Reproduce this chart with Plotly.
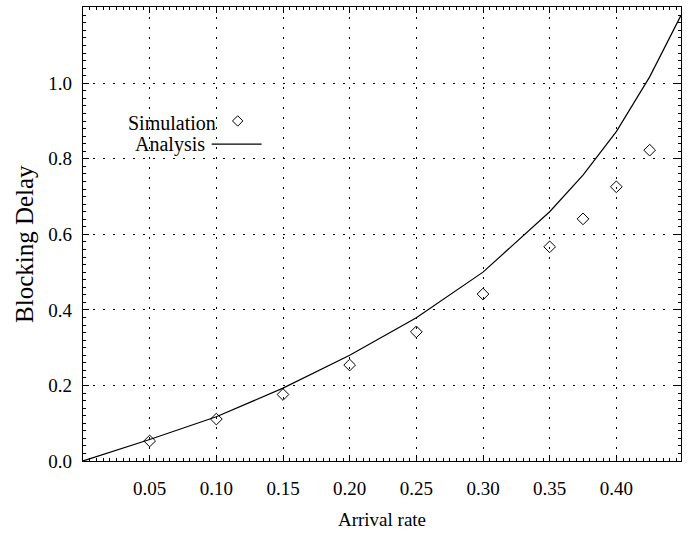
import plotly.graph_objects as go

# Data
analysis_x = [0.0, 0.05, 0.10, 0.15, 0.20, 0.25, 0.30, 0.35, 0.375, 0.40, 0.425, 0.4485]
analysis_y = [0.0, 0.057, 0.117, 0.193, 0.280, 0.379, 0.500, 0.660, 0.757, 0.872, 1.017, 1.180]

sim_x = [0.05, 0.10, 0.15, 0.20, 0.25, 0.30, 0.35, 0.375, 0.40, 0.425]
sim_y = [0.053, 0.111, 0.176, 0.254, 0.342, 0.442, 0.567, 0.641, 0.726, 0.823]

x_ticks = [0.05, 0.10, 0.15, 0.20, 0.25, 0.30, 0.35, 0.40]
x_ticklabels = ["0.05", "0.10", "0.15", "0.20", "0.25", "0.30", "0.35", "0.40"]
y_ticks = [0.0, 0.2, 0.4, 0.6, 0.8, 1.0]
y_ticklabels = ["0.0", "0.2", "0.4", "0.6", "0.8", "1.0"]

FONT = "Liberation Serif"

fig = go.Figure()
fig.add_trace(go.Scatter(x=analysis_x, y=analysis_y, mode="lines",
                         line=dict(color="black", width=1.2), showlegend=False))
fig.add_trace(go.Scatter(x=sim_x, y=sim_y, mode="markers",
                         marker=dict(symbol="diamond-open", size=9, color="black",
                                     line=dict(width=1, color="black")),
                         showlegend=False))

# manual legend (symbol to the right of the text) on hidden overlay axes
fig.add_trace(go.Scatter(x=[0.2587], y=[0.749], xaxis="x2", yaxis="y2", mode="markers",
                         marker=dict(symbol="diamond-open", size=8, color="black",
                                     line=dict(width=1, color="black")),
                         showlegend=False, hoverinfo="skip"))
fig.add_trace(go.Scatter(x=[0.2152, 0.2987], y=[0.698, 0.698], xaxis="x2", yaxis="y2",
                         mode="lines", line=dict(color="black", width=1.2),
                         showlegend=False, hoverinfo="skip"))
fig.add_annotation(x=0.2252, y=0.745, xref="paper", yref="paper", text="Simulation",
                   showarrow=False, xanchor="right", yanchor="middle",
                   font=dict(family=FONT, size=20, color="black"))
fig.add_annotation(x=0.2072, y=0.698, xref="paper", yref="paper", text="Analysis",
                   showarrow=False, xanchor="right", yanchor="middle",
                   font=dict(family=FONT, size=20, color="black"))

# y-axis title placed as rotated annotation
fig.add_annotation(x=-0.097, y=0.478, xref="paper", yref="paper", text="Blocking Delay",
                   textangle=-90, showarrow=False, xanchor="center", yanchor="middle",
                   font=dict(family=FONT, size=25, color="black"))

axis_common = dict(showline=True, linecolor="black", linewidth=1.2, mirror="ticks",
                   ticks="inside", ticklen=6, tickcolor="black", tickwidth=1,
                   showgrid=True, gridcolor="black", griddash="1.5px,8.5px", gridwidth=1,
                   zeroline=False,
                   tickfont=dict(family=FONT, size=19, color="black"))

fig.update_layout(
    width=689, height=533,
    margin=dict(l=83, r=8, t=7, b=72),
    paper_bgcolor="white", plot_bgcolor="white",
    xaxis=dict(range=[0, 0.4485], tickvals=x_ticks, ticktext=x_ticklabels,
               title=dict(text="Arrival rate", font=dict(family=FONT, size=19, color="black"),
                          standoff=14),
               ticklabelstandoff=10,
               minor=dict(dtick=0.005, ticks="inside", ticklen=3, tickcolor="black",
                          showgrid=False),
               **axis_common),
    yaxis=dict(range=[0, 1.202], tickvals=y_ticks, ticktext=y_ticklabels,
               ticklabelstandoff=6,
               minor=dict(dtick=0.02, ticks="inside", ticklen=3, tickcolor="black",
                          showgrid=False),
               **axis_common),
    xaxis2=dict(range=[0, 1], overlaying="x", visible=False, fixedrange=True),
    yaxis2=dict(range=[0, 1], overlaying="y", visible=False, fixedrange=True),
)

fig.write_html("out.html")
